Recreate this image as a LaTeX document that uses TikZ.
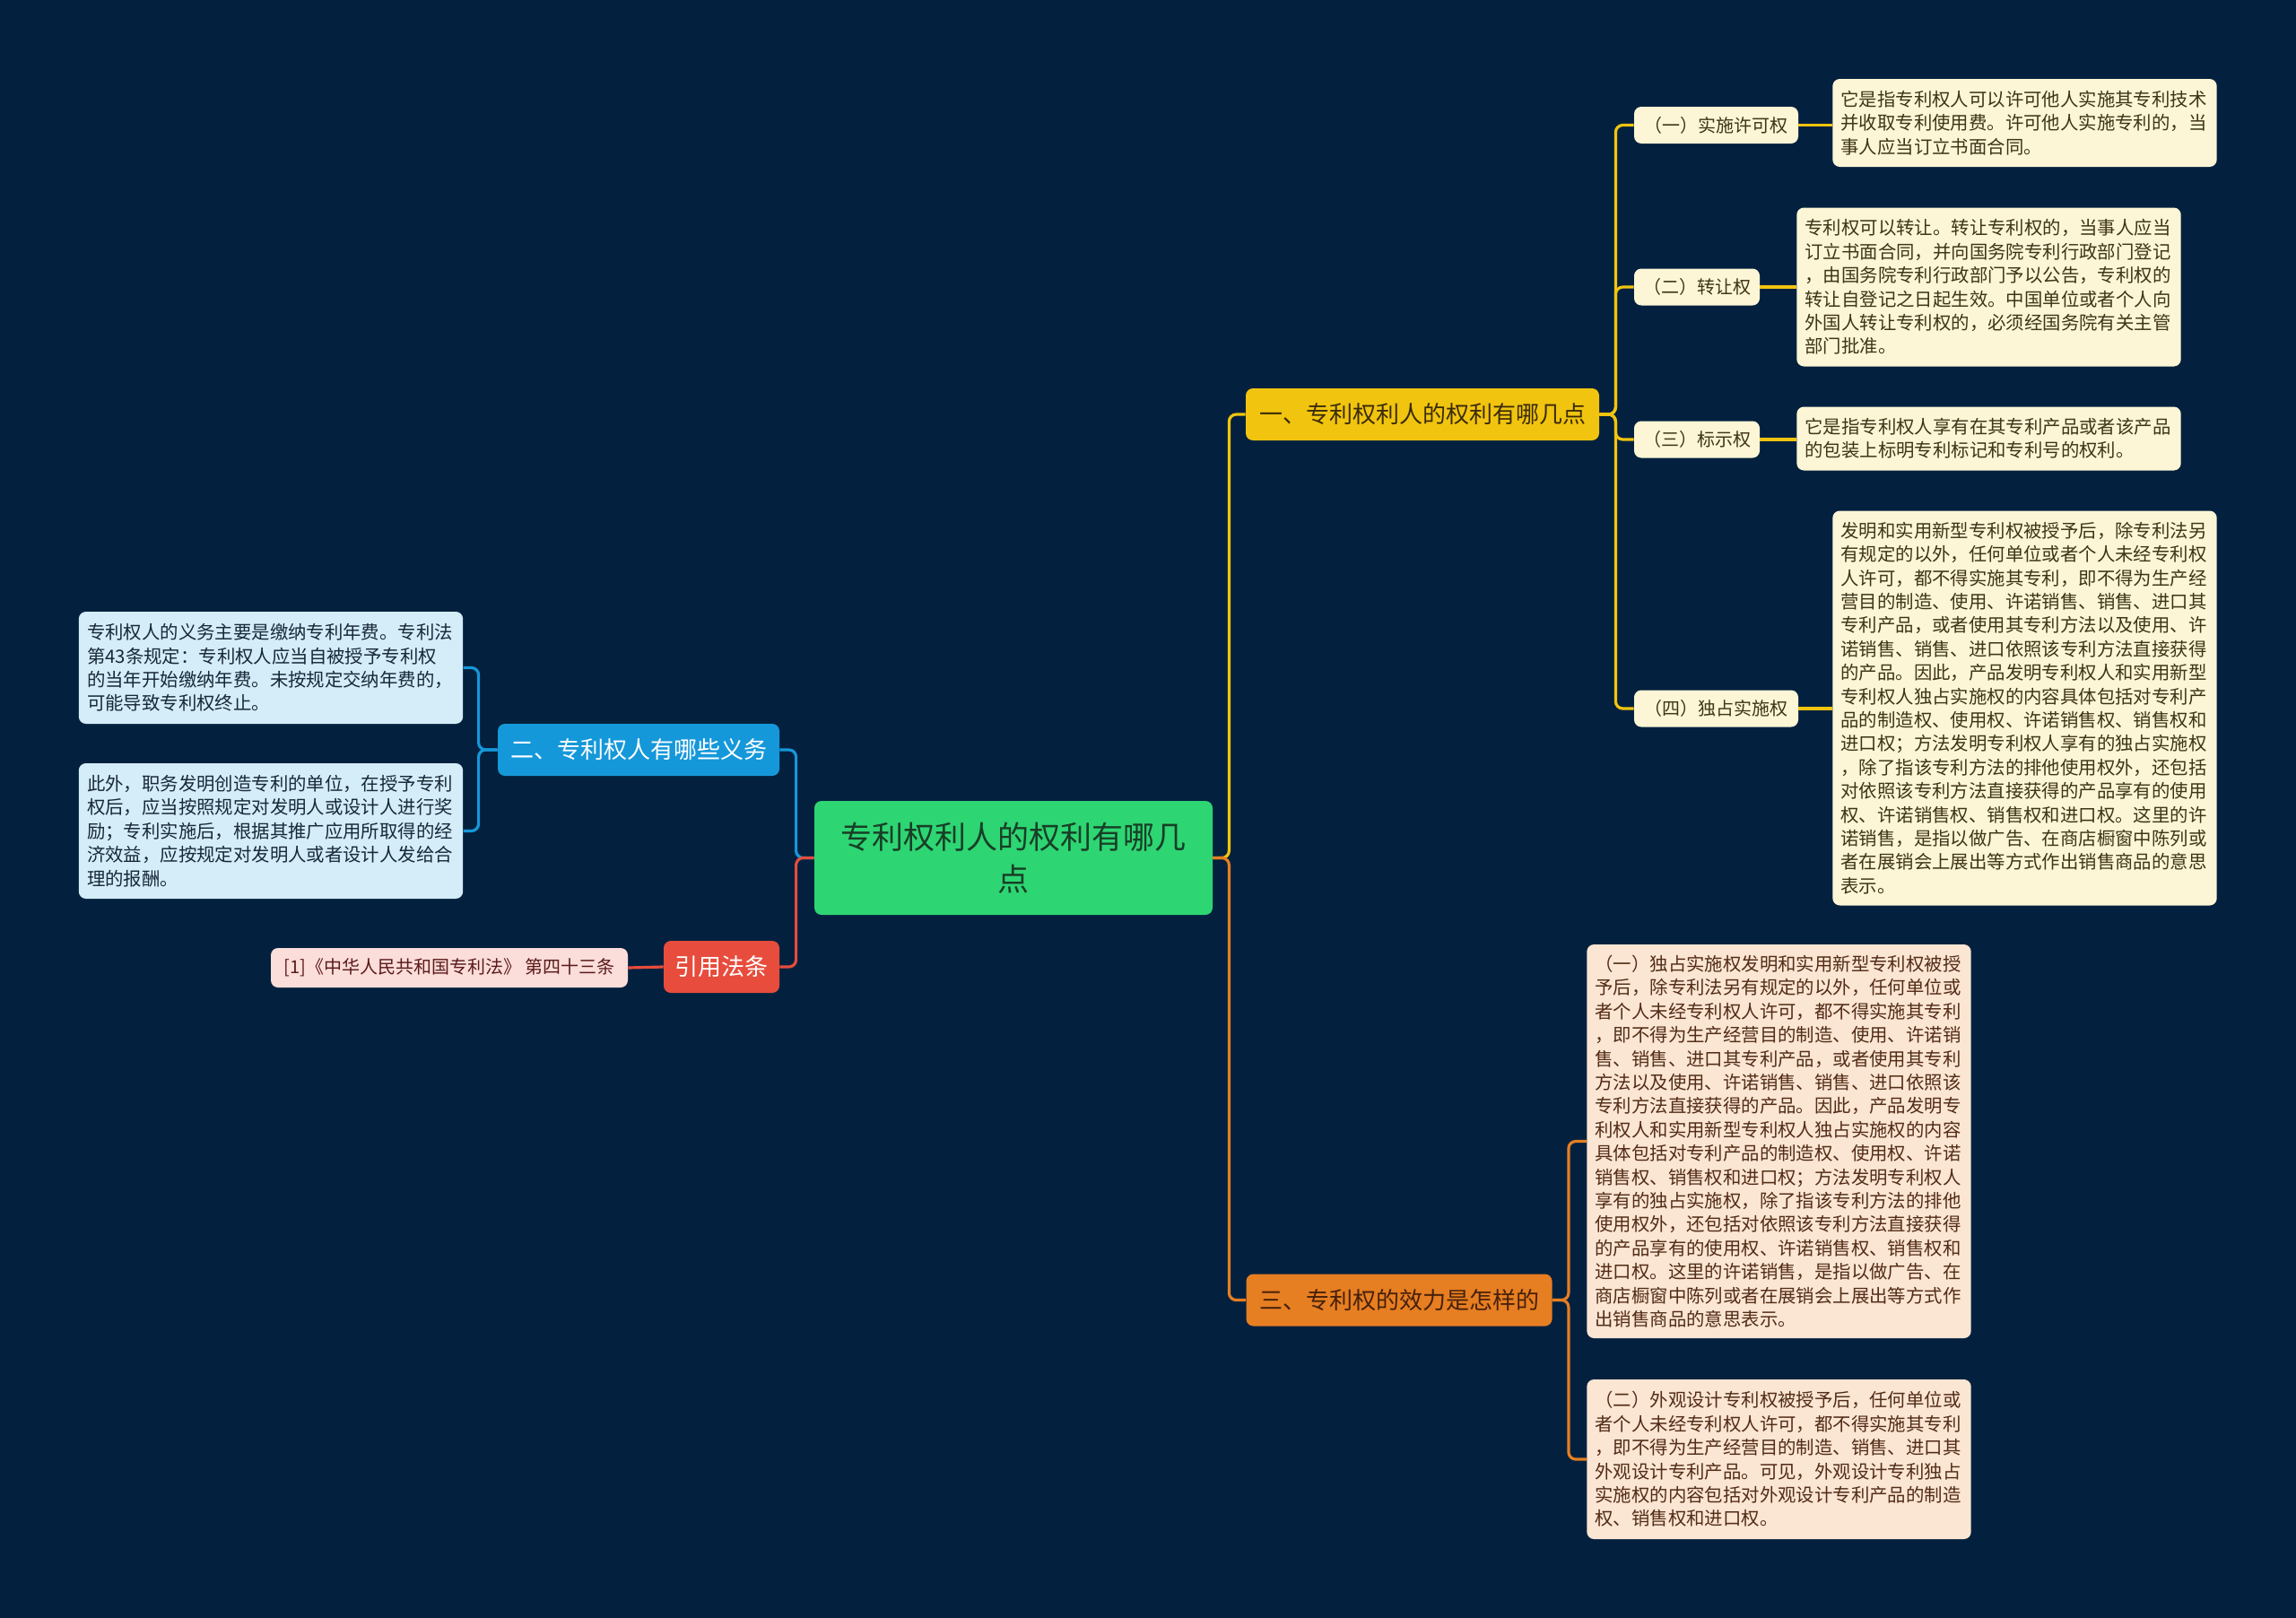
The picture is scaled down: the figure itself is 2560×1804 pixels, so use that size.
\documentclass[tikz,border=0pt]{standalone}
\usepackage{fontspec}
\setmainfont{Noto Sans CJK SC}
\definecolor{bgnavy}{RGB}{3,33,62}
\definecolor{rootgreen}{RGB}{46,213,115}
\definecolor{roottext}{RGB}{24,62,38}
\definecolor{ylwmain}{RGB}{241,196,15}
\definecolor{ylwtext}{RGB}{58,44,8}
\definecolor{ylwleaf}{RGB}{253,246,214}
\definecolor{leaftext}{RGB}{62,52,22}
\definecolor{ornmain}{RGB}{230,126,34}
\definecolor{orntext}{RGB}{70,32,10}
\definecolor{ornleaf}{RGB}{251,229,211}
\definecolor{ornleaftext}{RGB}{82,44,22}
\definecolor{blumain}{RGB}{21,152,218}
\definecolor{bluleaf}{RGB}{212,237,249}
\definecolor{bluleaftext}{RGB}{24,40,58}
\definecolor{redmain}{RGB}{231,76,60}
\definecolor{redleaf}{RGB}{251,221,217}
\definecolor{redleaftext}{RGB}{90,26,26}
\begin{document}
\begin{tikzpicture}[x=0.5pt,y=-0.5pt,
  box/.style={rounded corners=4pt, inner sep=0pt, align=center},
  rootbox/.style={box, fill=rootgreen, text=roottext,
    font=\fontsize{17.5}{23.5}\selectfont, minimum width=222pt, minimum height=63.5pt},
  branch/.style={box, font=\fontsize{13}{15}\selectfont, minimum height=29pt},
  subbox/.style={box, fill=ylwleaf, text=leaftext,
    font=\fontsize{10}{12}\selectfont, minimum height=20.5pt},
  leafbox/.style={box, align=left, inner xsep=4.6pt, text width=205pt,
    font=\fontsize{10.2}{13.2}\selectfont},
  ylw/.style={draw=ylwmain, line width=1.6pt, rounded corners=4pt},
  orn/.style={draw=ornmain, line width=1.6pt, rounded corners=4pt},
  blu/.style={draw=blumain, line width=1.6pt, rounded corners=4pt},
  rd/.style={draw=redmain, line width=1.6pt, rounded corners=4pt}]
  % background
  \fill[bgnavy] (0,0) rectangle (2560,1804);
  \useasboundingbox (0,0) rectangle (2560,1804);

  % centre and main branches
  \node[rootbox] (root) at (1130,956.5) {专利权利人的权利有哪几\\点};
  \node[branch, fill=ylwmain, text=ylwtext, minimum width=197pt] (br1) at (1586,462) {一、专利权利人的权利有哪几点};
  \node[branch, fill=ornmain, text=orntext, minimum width=170.5pt] (br3) at (1560,1449.5) {三、专利权的效力是怎样的};
  \node[branch, fill=blumain, text=white, minimum width=157pt] (br2) at (712,836) {二、专利权人有哪些义务};
  \node[branch, fill=redmain, text=white, minimum width=64.5pt] (br4) at (804.5,1078) {引用法条};

  % rights
  \node[subbox, minimum width=91.5pt] (s1) at (1913.5,139.5) {（一）实施许可权};
  \node[subbox, minimum width=70pt] (s2) at (1892,320) {（二）转让权};
  \node[subbox, minimum width=70pt] (s3) at (1892,490) {（三）标示权};
  \node[subbox, minimum width=91.5pt] (s4) at (1913.5,790) {（四）独占实施权};

  \node[leafbox, fill=ylwleaf, text=leaftext, minimum height=49pt] (y1) at (2257.5,137)
    {它是指专利权人可以许可他人实施其专利技术\\并收取专利使用费。许可他人实施专利的，当\\事人应当订立书面合同。};
  \node[leafbox, fill=ylwleaf, text=leaftext, minimum height=88.5pt] (y2) at (2217.5,320)
    {专利权可以转让。转让专利权的，当事人应当\\订立书面合同，并向国务院专利行政部门登记\\，由国务院专利行政部门予以公告，专利权的\\转让自登记之日起生效。中国单位或者个人向\\外国人转让专利权的，必须经国务院有关主管\\部门批准。};
  \node[leafbox, fill=ylwleaf, text=leaftext, minimum height=35.5pt] (y3) at (2217.5,489)
    {它是指专利权人享有在其专利产品或者该产品\\的包装上标明专利标记和专利号的权利。};
  \node[leafbox, fill=ylwleaf, text=leaftext, minimum height=220pt] (y4) at (2257.5,789.5)
    {发明和实用新型专利权被授予后，除专利法另\\有规定的以外，任何单位或者个人未经专利权\\人许可，都不得实施其专利，即不得为生产经\\营目的制造、使用、许诺销售、销售、进口其\\专利产品，或者使用其专利方法以及使用、许\\诺销售、销售、进口依照该专利方法直接获得\\的产品。因此，产品发明专利权人和实用新型\\专利权人独占实施权的内容具体包括对专利产\\品的制造权、使用权、许诺销售权、销售权和\\进口权；方法发明专利权人享有的独占实施权\\，除了指该专利方法的排他使用权外，还包括\\对依照该专利方法直接获得的产品享有的使用\\权、许诺销售权、销售权和进口权。这里的许\\诺销售，是指以做广告、在商店橱窗中陈列或\\者在展销会上展出等方式作出销售商品的意思\\表示。};

  % effect
  \node[leafbox, fill=ornleaf, text=ornleaftext, minimum height=219.5pt] (o1) at (1983.5,1272.5)
    {（一）独占实施权发明和实用新型专利权被授\\予后，除专利法另有规定的以外，任何单位或\\者个人未经专利权人许可，都不得实施其专利\\，即不得为生产经营目的制造、使用、许诺销\\售、销售、进口其专利产品，或者使用其专利\\方法以及使用、许诺销售、销售、进口依照该\\专利方法直接获得的产品。因此，产品发明专\\利权人和实用新型专利权人独占实施权的内容\\具体包括对专利产品的制造权、使用权、许诺\\销售权、销售权和进口权；方法发明专利权人\\享有的独占实施权，除了指该专利方法的排他\\使用权外，还包括对依照该专利方法直接获得\\的产品享有的使用权、许诺销售权、销售权和\\进口权。这里的许诺销售，是指以做广告、在\\商店橱窗中陈列或者在展销会上展出等方式作\\出销售商品的意思表示。};
  \node[leafbox, fill=ornleaf, text=ornleaftext, minimum height=89pt] (o2) at (1983.5,1627)
    {（二）外观设计专利权被授予后，任何单位或\\者个人未经专利权人许可，都不得实施其专利\\，即不得为生产经营目的制造、销售、进口其\\外观设计专利产品。可见，外观设计专利独占\\实施权的内容包括对外观设计专利产品的制造\\权、销售权和进口权。};

  % duties
  \node[leafbox, fill=bluleaf, text=bluleaftext, minimum height=62.5pt] (b1) at (302,744.5)
    {专利权人的义务主要是缴纳专利年费。专利法\\第43条规定：专利权人应当自被授予专利权\\的当年开始缴纳年费。未按规定交纳年费的，\\可能导致专利权终止。};
  \node[leafbox, fill=bluleaf, text=bluleaftext, minimum height=75.5pt] (b2) at (302,926.5)
    {此外，职务发明创造专利的单位，在授予专利\\权后，应当按照规定对发明人或设计人进行奖\\励；专利实施后，根据其推广应用所取得的经\\济效益，应按规定对发明人或者设计人发给合\\理的报酬。};

  % reference
  \node[box, fill=redleaf, text=redleaftext, font=\fontsize{10}{12}\selectfont,
    minimum width=199pt, minimum height=22pt] (ref) at (501,1079) {[1]《中华人民共和国专利法》 第四十三条};

  % connectors
  \draw[ylw] (root.east) -- ++(18,0) |- (br1.west);
  \draw[orn] (root.east) -- ++(18,0) |- (br3.west);
  \draw[blu] (root.west) -- ++(-20,0) |- (br2.east);
  \draw[rd] (root.west) -- ++(-20,0) |- (br4.east);
  \foreach \s in {s1,s2,s3,s4}
    \draw[ylw] (br1.east) -- ++(18,0) |- (\s.west);
  \foreach \s/\l in {s1/y1,s2/y2,s3/y3,s4/y4}
    \draw[ylw] (\s.east) -- (\s.east -| \l.west);
  \foreach \l in {o1,o2}
    \draw[orn] (br3.east) -- ++(18,0) |- (\l.west);
  \foreach \l in {b1,b2}
    \draw[blu] (br2.west) -- ++(-21,0) |- (\l.east);
  \draw[rd] (br4.west) -- (ref.east);
\end{tikzpicture}
\end{document}
